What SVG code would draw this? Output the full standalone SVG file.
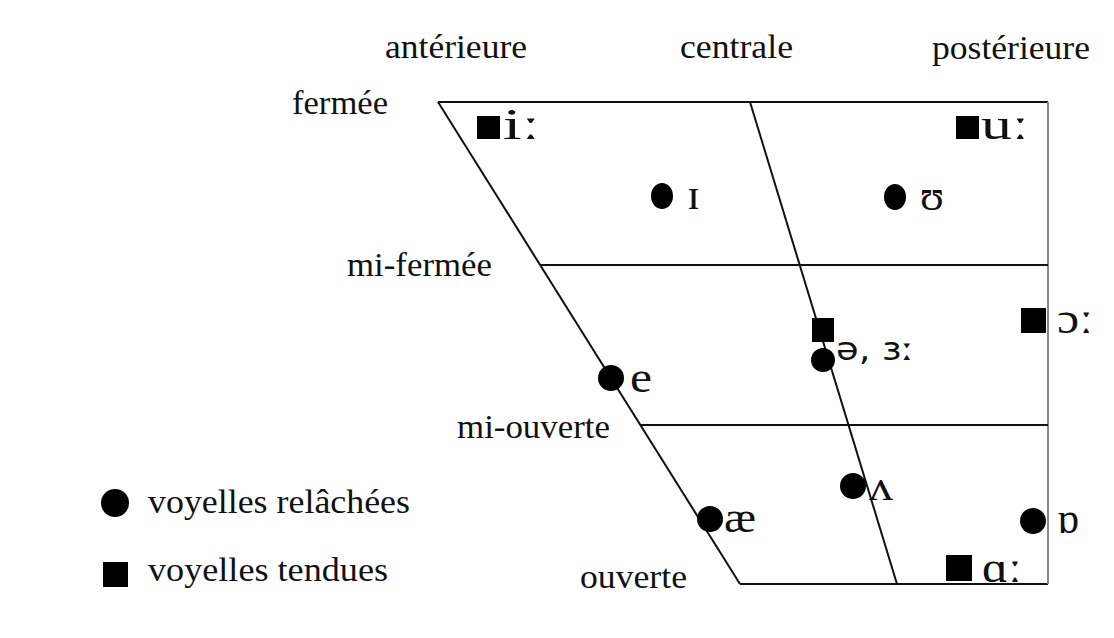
<svg xmlns="http://www.w3.org/2000/svg" width="1114" height="638" viewBox="0 0 1114 638">
<style>
.lbl{font-family:'Liberation Serif','DejaVu Serif',serif;font-size:33px;fill:#111}
.ipa{font-family:'Liberation Serif','DejaVu Serif',serif;font-size:44px;fill:#111}
.ipas{font-family:'DejaVu Sans','Liberation Sans',sans-serif;font-size:32px;fill:#111}
.ln{stroke:#111;stroke-width:2;fill:none}
.dot{fill:#000}
</style>
<rect width="1114" height="638" fill="#fff"/>
<g id="connectors">
<line class="ln" x1="438" y1="102" x2="1048" y2="102" stroke="#333"/>
<line class="ln" x1="438" y1="102" x2="740" y2="584"/>
<line class="ln" x1="740" y1="584" x2="1048" y2="584"/>
<line x1="1048" y1="102" x2="1048" y2="584" stroke="#888" stroke-width="2"/>
<line class="ln" x1="750" y1="102" x2="897" y2="584"/>
<line class="ln" x1="540" y1="265" x2="1048" y2="265"/>
<line class="ln" x1="640" y1="425" x2="1048" y2="425"/>
</g>
<g id="labels">
<text class="lbl" x="385" y="58" textLength="142" lengthAdjust="spacingAndGlyphs">antérieure</text>
<text class="lbl" x="680" y="58" textLength="113" lengthAdjust="spacingAndGlyphs">centrale</text>
<text class="lbl" x="932" y="59" textLength="158" lengthAdjust="spacingAndGlyphs">postérieure</text>
<text class="lbl" x="292" y="114" textLength="96" lengthAdjust="spacingAndGlyphs">fermée</text>
<text class="lbl" x="347" y="276" textLength="145" lengthAdjust="spacingAndGlyphs">mi-fermée</text>
<text class="lbl" x="457" y="438" textLength="153" lengthAdjust="spacingAndGlyphs">mi-ouverte</text>
<text class="lbl" x="580" y="588" textLength="107" lengthAdjust="spacingAndGlyphs">ouverte</text>
</g>
<g id="v-i"><rect class="dot" x="477" y="116" width="23" height="23"/><text class="ipa" x="503" y="139" textLength="37" lengthAdjust="spacingAndGlyphs">iː</text></g>
<g id="v-u"><rect class="dot" x="956" y="116" width="23" height="23"/><text class="ipa" x="981" y="139" textLength="48" lengthAdjust="spacingAndGlyphs">uː</text></g>
<g id="v-I"><ellipse class="dot" cx="662" cy="196" rx="11" ry="13"/><text class="ipa" x="687" y="209" textLength="13" lengthAdjust="spacingAndGlyphs">ɪ</text></g>
<g id="v-U"><ellipse class="dot" cx="895" cy="197" rx="11" ry="13"/><text class="ipa" x="920" y="210" textLength="24" lengthAdjust="spacingAndGlyphs">ʊ</text></g>
<g id="v-o"><rect class="dot" x="1021" y="308" width="25" height="25"/><text class="ipa" x="1057" y="333" textLength="36" lengthAdjust="spacingAndGlyphs">ɔː</text></g>
<g id="v-schwa"><rect class="dot" x="812" y="318" width="22" height="24"/><circle class="dot" cx="823" cy="360" r="12"/><text class="ipas" x="836" y="360" textLength="78" lengthAdjust="spacingAndGlyphs">ə, ɜː</text></g>
<g id="v-e"><circle class="dot" cx="611" cy="378" r="13"/><text class="ipa" x="630" y="392" textLength="22" lengthAdjust="spacingAndGlyphs">e</text></g>
<g id="v-v"><circle class="dot" cx="853" cy="486" r="13"/><text class="ipa" x="869" y="500" textLength="24" lengthAdjust="spacingAndGlyphs">ʌ</text></g>
<g id="v-ae"><circle class="dot" cx="710" cy="519" r="13"/><text class="ipa" x="724" y="532" textLength="32" lengthAdjust="spacingAndGlyphs">æ</text></g>
<g id="v-Q"><circle class="dot" cx="1033" cy="521" r="13"/><text class="ipa" x="1057" y="533" textLength="22" lengthAdjust="spacingAndGlyphs">ɒ</text></g>
<g id="v-A"><rect class="dot" x="946" y="555" width="26" height="26"/><text class="ipa" x="982" y="582" textLength="40" lengthAdjust="spacingAndGlyphs">ɑː</text></g>
<g id="legend">
<circle class="dot" cx="115" cy="503" r="14"/>
<text class="lbl" x="148" y="513" textLength="262" lengthAdjust="spacingAndGlyphs">voyelles relâchées</text>
<rect class="dot" x="103" y="562" width="25" height="25"/>
<text class="lbl" x="148" y="581" textLength="240" lengthAdjust="spacingAndGlyphs">voyelles tendues</text>
</g>
</svg>
